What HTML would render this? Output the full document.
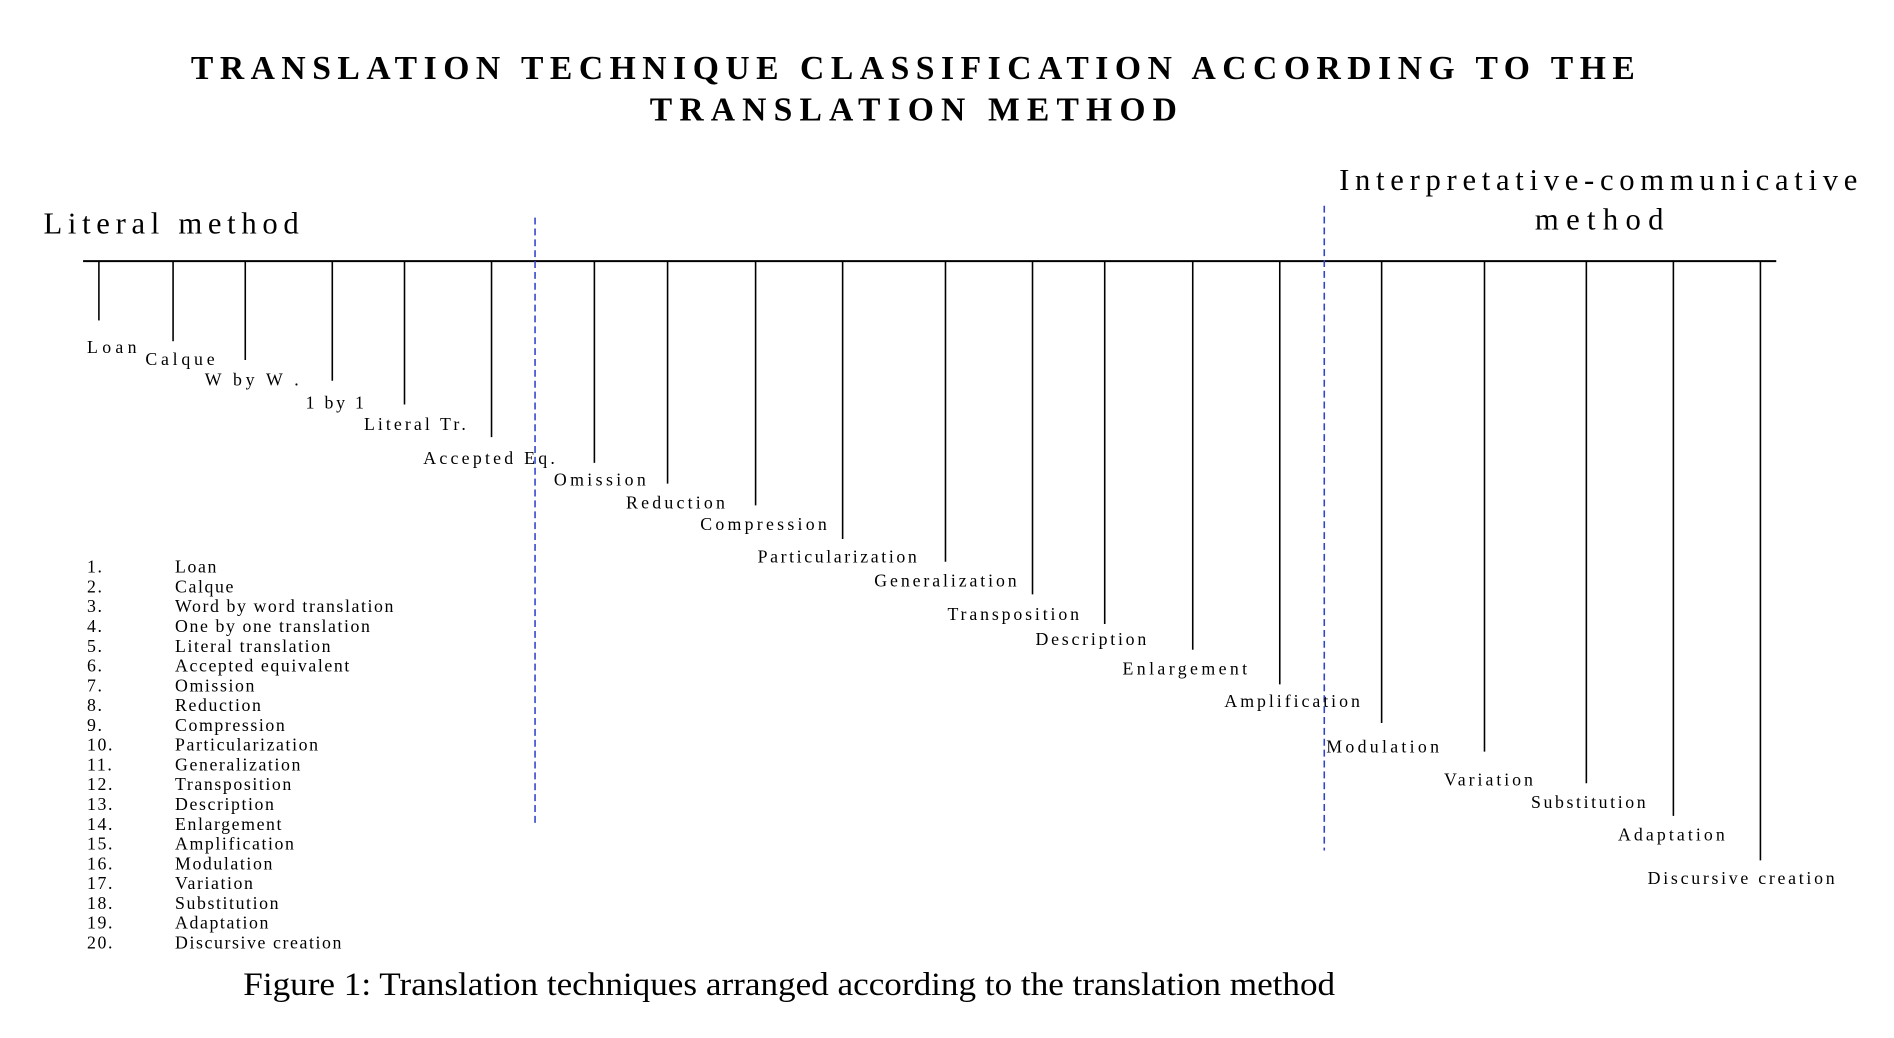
<!DOCTYPE html>
<html><head><meta charset="utf-8"><style>
html,body{margin:0;padding:0;background:#fff;}
svg{display:block;}
text{font-family:"Liberation Serif",serif;fill:#000;}
.l{font-size:18px;}
</style></head><body>
<svg width="1894" height="1038" viewBox="0 0 1894 1038" xmlns="http://www.w3.org/2000/svg">
<g transform="scale(0.989)">
<text x="193" y="80" font-size="34" font-weight="bold" textLength="1460" lengthAdjust="spacing">TRANSLATION TECHNIQUE CLASSIFICATION ACCORDING TO THE</text>
<text x="657" y="122" font-size="34" font-weight="bold" textLength="533" lengthAdjust="spacing">TRANSLATION METHOD</text>
<text x="44" y="236" font-size="31" textLength="258" lengthAdjust="spacing">Literal method</text>
<text x="1354" y="192" font-size="31" textLength="524" lengthAdjust="spacing">Interpretative-communicative</text>
<text x="1552" y="232" font-size="31" textLength="130" lengthAdjust="spacing">method</text>
<line x1="84" y1="264" x2="1796" y2="264" stroke="#000" stroke-width="2"/>
<g stroke="#000" stroke-width="1.6">
<line x1="100" y1="264" x2="100" y2="324"/>
<line x1="175" y1="264" x2="175" y2="345"/>
<line x1="248" y1="264" x2="248" y2="364"/>
<line x1="336" y1="264" x2="336" y2="385"/>
<line x1="409" y1="264" x2="409" y2="409"/>
<line x1="497" y1="264" x2="497" y2="442"/>
<line x1="601" y1="264" x2="601" y2="468"/>
<line x1="675" y1="264" x2="675" y2="489"/>
<line x1="764" y1="264" x2="764" y2="511"/>
<line x1="852" y1="264" x2="852" y2="545"/>
<line x1="956" y1="264" x2="956" y2="568"/>
<line x1="1044" y1="264" x2="1044" y2="601"/>
<line x1="1117" y1="264" x2="1117" y2="631"/>
<line x1="1206" y1="264" x2="1206" y2="657"/>
<line x1="1294" y1="264" x2="1294" y2="692"/>
<line x1="1397" y1="264" x2="1397" y2="731"/>
<line x1="1501" y1="264" x2="1501" y2="760"/>
<line x1="1604" y1="264" x2="1604" y2="792"/>
<line x1="1692" y1="264" x2="1692" y2="825"/>
<line x1="1780" y1="264" x2="1780" y2="870"/>
</g>
<g stroke="#3344cc" stroke-width="1.6" stroke-dasharray="7,4">
<line x1="541" y1="220" x2="541" y2="836"/>
<line x1="1339" y1="208" x2="1339" y2="860"/>
</g>
<g class="l">
<text x="88" y="357" textLength="50">Loan</text>
<text x="147" y="369" textLength="70">Calque</text>
<text x="207" y="390" textLength="95">W by W .</text>
<text x="309" y="413" textLength="59">1 by 1</text>
<text x="368" y="435" textLength="103">Literal Tr.</text>
<text x="428" y="469" textLength="133">Accepted Eq.</text>
<text x="560" y="491" textLength="93">Omission</text>
<text x="633" y="514" textLength="100">Reduction</text>
<text x="708" y="536" textLength="128">Compression</text>
<text x="766" y="569" textLength="161">Particularization</text>
<text x="884" y="593" textLength="144">Generalization</text>
<text x="958" y="627" textLength="133">Transposition</text>
<text x="1047" y="652" textLength="112">Description</text>
<text x="1135" y="682" textLength="126">Enlargement</text>
<text x="1238" y="715" textLength="137">Amplification</text>
<text x="1341" y="761" textLength="114">Modulation</text>
<text x="1460" y="794" textLength="90">Variation</text>
<text x="1548" y="817" textLength="116">Substitution</text>
<text x="1636" y="850" textLength="108">Adaptation</text>
<text x="1666" y="894" textLength="189">Discursive creation</text>
</g>
<g class="l" font-size="16" style="letter-spacing:1.6px">
<text x="88" y="579">1.</text><text x="177" y="579">Loan</text>
<text x="88" y="599">2.</text><text x="177" y="599">Calque</text>
<text x="88" y="619">3.</text><text x="177" y="619">Word by word translation</text>
<text x="88" y="639">4.</text><text x="177" y="639">One by one translation</text>
<text x="88" y="659">5.</text><text x="177" y="659">Literal translation</text>
<text x="88" y="679">6.</text><text x="177" y="679">Accepted equivalent</text>
<text x="88" y="699">7.</text><text x="177" y="699">Omission</text>
<text x="88" y="719">8.</text><text x="177" y="719">Reduction</text>
<text x="88" y="739">9.</text><text x="177" y="739">Compression</text>
<text x="88" y="759">10.</text><text x="177" y="759">Particularization</text>
<text x="88" y="779">11.</text><text x="177" y="779">Generalization</text>
<text x="88" y="799">12.</text><text x="177" y="799">Transposition</text>
<text x="88" y="819">13.</text><text x="177" y="819">Description</text>
<text x="88" y="839">14.</text><text x="177" y="839">Enlargement</text>
<text x="88" y="859">15.</text><text x="177" y="859">Amplification</text>
<text x="88" y="879">16.</text><text x="177" y="879">Modulation</text>
<text x="88" y="899">17.</text><text x="177" y="899">Variation</text>
<text x="88" y="919">18.</text><text x="177" y="919">Substitution</text>
<text x="88" y="939">19.</text><text x="177" y="939">Adaptation</text>
<text x="88" y="959">20.</text><text x="177" y="959">Discursive creation</text>
</g>
<text x="246" y="1006" font-size="33" textLength="1104" lengthAdjust="spacingAndGlyphs">Figure 1: Translation techniques arranged according to the translation method</text>
</g>
</svg>
</body></html>
